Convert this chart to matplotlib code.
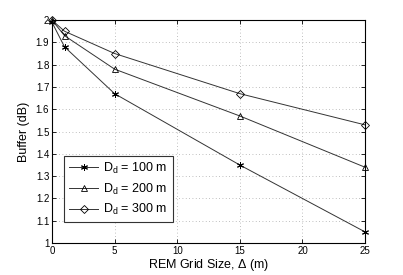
import numpy as np
import matplotlib
matplotlib.use('Agg')
import matplotlib.pyplot as plt

plt.rcParams['font.family'] = ['Liberation Sans', 'DejaVu Sans']
plt.rcParams['mathtext.fontset'] = 'custom'
plt.rcParams['mathtext.rm'] = 'Liberation Sans'
plt.rcParams['mathtext.it'] = 'Liberation Sans'

grid_size = [0, 1, 5, 15, 25]
buf_100 = [1.99, 1.88, 1.67, 1.35, 1.05]
buf_200 = [2.0, 1.93, 1.78, 1.57, 1.34]
buf_300 = [2.0, 1.95, 1.85, 1.67, 1.53]
labels = [r'D$_\mathregular{d}$ = 100 m', r'D$_\mathregular{d}$ = 200 m', r'D$_\mathregular{d}$ = 300 m']

fig = plt.figure(figsize=(4.03, 2.75), dpi=100)
ax = fig.add_axes([0.129, 0.116, 0.777, 0.811])
col = '#333333'
ax.plot(grid_size, buf_100, color=col, lw=0.7, marker=(6, 2, 0), ms=5, mew=0.7, mec='k',
        label=labels[0], clip_on=False)
ax.plot(grid_size, buf_200, color=col, lw=0.7, marker='^', ms=5, mew=0.6, mfc='none', mec='k',
        label=labels[1], clip_on=False)
ax.plot(grid_size, buf_300, color=col, lw=0.7, marker='D', ms=4, mew=0.6, mfc='none', mec='k',
        label=labels[2], clip_on=False)

ax.set_xlim(0, 25)
ax.set_ylim(1, 2)
ax.set_xticks([0, 5, 10, 15, 20, 25])
ax.set_yticks(np.round(np.arange(1, 2.01, 0.1), 1))
ax.set_yticklabels(['1', '1.1', '1.2', '1.3', '1.4', '1.5', '1.6', '1.7', '1.8', '1.9', '2'])
ax.tick_params(direction='in', top=True, right=True, labelsize=7, length=3, width=0.6, pad=2)
ax.grid(True, ls=(0, (1, 3)), color='#aaaaaa', lw=0.6)
for s in ax.spines.values():
    s.set_linewidth(0.8)
ax.set_xlabel(r'REM Grid Size, $\Delta$ (m)', fontsize=9, labelpad=1)
ax.set_ylabel('Buffer (dB)', fontsize=9, labelpad=4)
leg = ax.legend(loc='lower left', bbox_to_anchor=(0.02, 0.065), fontsize=9, fancybox=False,
                edgecolor='#333333', framealpha=1, handlelength=2.3, handletextpad=0.4,
                borderpad=0.4, labelspacing=0.45)
leg.get_frame().set_linewidth(0.8)

plt.savefig('out.png', dpi=100)
